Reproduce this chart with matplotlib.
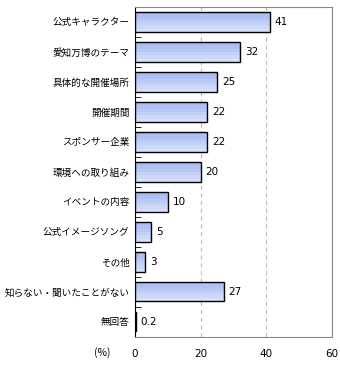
import matplotlib
matplotlib.use("Agg")
import matplotlib.pyplot as plt
import numpy as np

plt.rcParams['font.family'] = ['Noto Sans CJK JP', 'DejaVu Sans']

categories = ["公式キャラクター", "愛知万博のテーマ", "具体的な開催場所", "開催期間",
              "スポンサー企業", "環境への取り組み", "イベントの内容", "公式イメージソング",
              "その他", "知らない・聞いたことがない", "無回答"]
values = [41, 32, 25, 22, 22, 20, 10, 5, 3, 27, 0.2]
value_labels = ["41", "32", "25", "22", "22", "20", "10", "5", "3", "27", "0.2"]
xticks = [0, 20, 40, 60]

fig = plt.figure(figsize=(3.4, 3.65), dpi=100)
ax = fig.add_axes([0.397, 0.077, 0.579, 0.904])

n = len(categories)
ypos = np.arange(n)
h = 0.64
ax.set_xlim(0, 60)
ax.set_ylim(n - 0.5, -0.5)

# vertical gradient for the bars
grad = np.array([0.0, 0.15, 0.35, 0.6, 0.8, 1.0]).reshape(-1, 1)
cmap = matplotlib.colors.LinearSegmentedColormap.from_list("g", ["#a9bbf1", "#d6e0fa"])

for y, v, lab in zip(ypos, values, value_labels):
    bar = ax.barh(y, v, height=h, color="#c4d2f6", edgecolor="black", linewidth=1.0, zorder=3)[0]
    im = ax.imshow(grad, extent=(0, v, y + h / 2, y - h / 2), cmap=cmap, aspect="auto", zorder=2.9)
    im.set_clip_path(bar)
    bar.set_facecolor("none")
    ax.text(v + 1.5, y, lab, va="center", ha="left", fontsize=7.5, family="DejaVu Sans")

ax.set_xlim(0, 60)
ax.set_ylim(n - 0.5, -0.5)
ax.set_yticks(ypos)
ax.set_yticklabels(categories, fontsize=6.9)
ax.tick_params(axis="y", length=0, pad=4)
ax.set_yticks(np.arange(n - 1) + 0.5, minor=True)
ax.tick_params(axis="y", which="minor", direction="in", length=4, color="black")

ax.set_xticks(xticks)
ax.set_xticklabels([str(t) for t in xticks], fontsize=7.5, family="DejaVu Sans")
ax.tick_params(axis="x", length=0, pad=9)
ax.xaxis.grid(True, linestyle=(0, (4, 3)), color="#bbbbbb", linewidth=0.8)
ax.set_axisbelow(True)

for s in ["top", "right", "bottom"]:
    ax.spines[s].set_color("#888888")
ax.spines["left"].set_color("black")

fig.text(0.275, 0.035, "(%)", fontsize=7.5, ha="left", va="center")

fig.savefig("out.png", dpi=100)
